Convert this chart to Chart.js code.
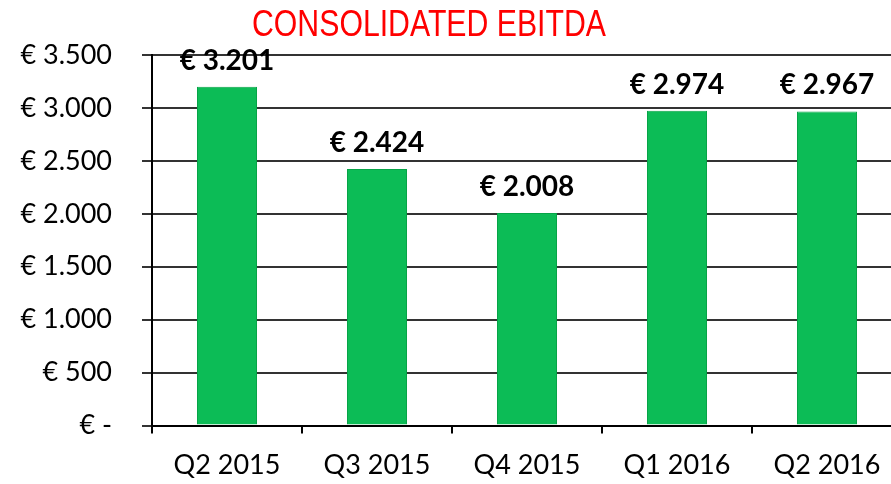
<!DOCTYPE html>
<html>
<head>
<meta charset="utf-8">
<script src="https://cdn.jsdelivr.net/npm/chart.js@4"></script>
<style>
  html, body { margin: 0; padding: 0; background: #fff; overflow: hidden; }
  #wrap { width: 891px; height: 484px; overflow: hidden; }
</style>
</head>
<body>
<div id="wrap"><canvas id="ebitdaChart" width="902" height="500"></canvas></div>
<script>
const titolo = "CONSOLIDATED EBITDA";
const trimestri = ["Q2 2015", "Q3 2015", "Q4 2015", "Q1 2016", "Q2 2016"];
const ebitda = [3201, 2424, 2008, 2974, 2967];
const tickValori = [0, 500, 1000, 1500, 2000, 2500, 3000, 3500];

const fonte = "Lato, 'DejaVu Sans', sans-serif";

function euro(v) {
    if (v === 0) return "€ -";
    return "€ " + v.toLocaleString("de-DE");
}

// titolo rosso e etichette sopra le barre
const etichette = {
    id: "etichette",
    afterDatasetsDraw(chart) {
        const ctx = chart.ctx;
        ctx.save();
        ctx.fillStyle = "#000";
        ctx.textAlign = "center";
        ctx.textBaseline = "bottom";
        ctx.font = "bold 28px " + fonte;
        chart.getDatasetMeta(0).data.forEach((bar, i) => {
            ctx.fillText(euro(ebitda[i]), bar.x, bar.y - 12);
        });
        ctx.fillStyle = "#ff0000";
        ctx.textBaseline = "middle";
        ctx.font = "36px 'Liberation Sans', sans-serif";
        ctx.translate(429, 26);
        ctx.scale(0.84, 1);
        ctx.fillText(titolo, 0, 0);
        ctx.restore();
    }
};

function coloreBarra(c) {
    const el = c.element;
    const ctx = c.chart.ctx;
    if (!el || !el.width) return "#0cbc56";
    const x0 = el.x - el.width / 2;
    const g = ctx.createLinearGradient(x0, 0, x0 + el.width, 0);
    g.addColorStop(0, "#079a45");
    g.addColorStop(0.08, "#0cbc56");
    g.addColorStop(0.92, "#0cbc56");
    g.addColorStop(1, "#079a45");
    return g;
}

new Chart(document.getElementById("ebitdaChart").getContext("2d"), {
    type: "bar",
    data: {
        labels: trimestri,
        datasets: [{
            data: ebitda,
            backgroundColor: coloreBarra,
            borderColor: "#06a447",
            borderWidth: 1,
            barPercentage: 0.4,
            categoryPercentage: 1
        }]
    },
    options: {
        responsive: false,
        animation: false,
        layout: { padding: { top: 55, left: 0, right: 0, bottom: 4 } },
        plugins: { legend: { display: false }, tooltip: { enabled: false } },
        scales: {
            x: {
                grid: { display: true, drawOnChartArea: false, color: "#000", lineWidth: 2, tickLength: 8 },
                border: { color: "#000", width: 2 },
                ticks: { color: "#000", font: { family: fonte, size: 27 }, padding: 15 }
            },
            y: {
                min: 0,
                max: 3500,
                afterFit(scale) { scale.width = 152; },
                afterBuildTicks(scale) { scale.ticks = tickValori.map(v => ({ value: v })); },
                grid: { color: "#333", lineWidth: 2, tickLength: 10 },
                border: { color: "#000", width: 2 },
                ticks: { color: "#000", font: { family: fonte, size: 27 }, padding: 30, callback: v => euro(v) }
            }
        }
    },
    plugins: [etichette]
});
</script>
</body>
</html>
